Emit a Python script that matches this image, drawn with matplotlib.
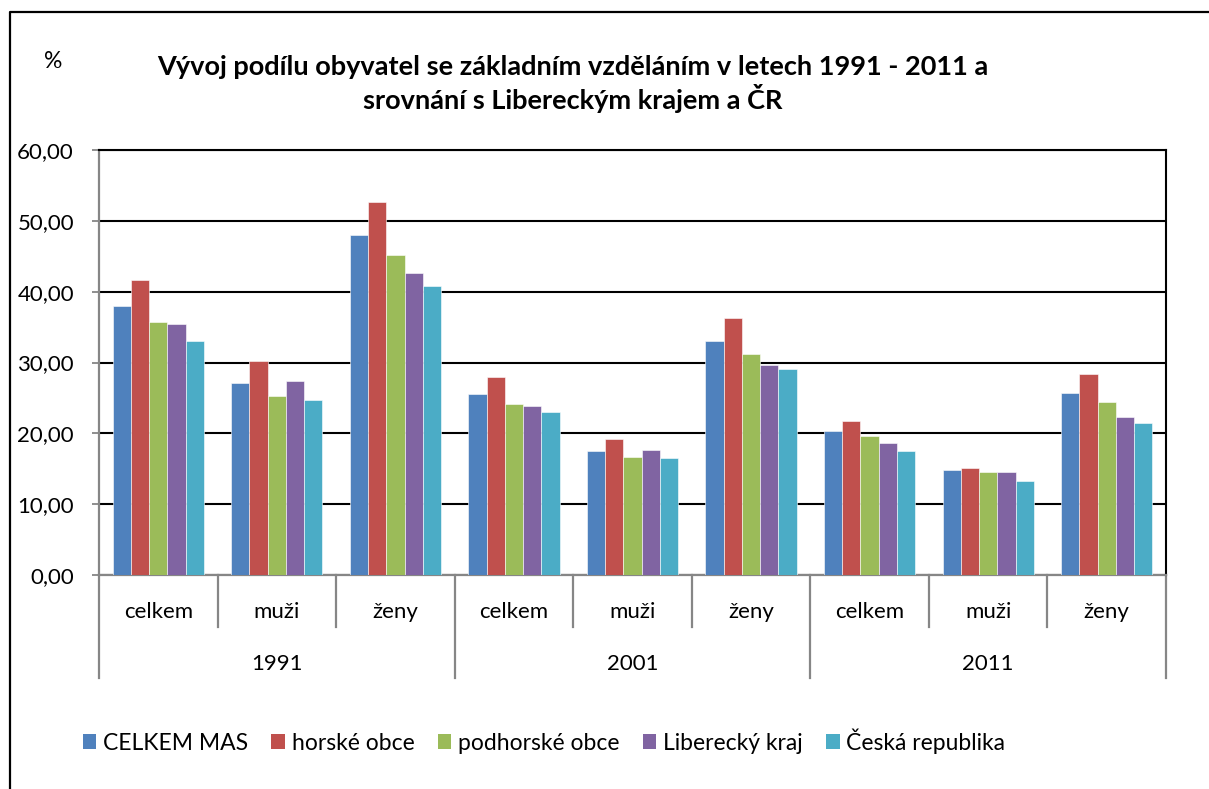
import numpy as np
import matplotlib; matplotlib.use("Agg")
import matplotlib.pyplot as plt
from matplotlib.patches import Patch
from matplotlib.lines import Line2D

plt.rcParams["font.family"] = ["Lato", "DejaVu Sans"]

W, H, DPI = 1209, 789, 100

years = ["1991", "2001", "2011"]
groups = ["celkem", "muži", "ženy"]
series = ["CELKEM MAS", "horské obce", "podhorské obce", "Liberecký kraj", "Česká republika"]
colors = ["#4F81BD", "#C0504D", "#9BBB59", "#8064A2", "#4BACC6"]

celkem_mas   = [38.0, 27.1, 48.0, 25.5, 17.5, 33.0, 20.4, 14.8, 25.7]
horske       = [41.7, 30.2, 52.7, 27.9, 19.2, 36.3, 21.7, 15.1, 28.4]
podhorske    = [35.7, 25.3, 45.2, 24.1, 16.6, 31.2, 19.6, 14.6, 24.4]
liberecky    = [35.4, 27.4, 42.7, 23.9, 17.7, 29.6, 18.6, 14.6, 22.3]
cr           = [33.1, 24.7, 40.8, 23.0, 16.5, 29.1, 17.5, 13.3, 21.5]
values = [celkem_mas, horske, podhorske, liberecky, cr]

title = "Vývoj podílu obyvatel se základním vzděláním v letech 1991 - 2011 a\nsrovnání s Libereckým krajem a ČR"

fig = plt.figure(figsize=(W / DPI, H / DPI), dpi=DPI)
ax = fig.add_axes([99 / W, 214 / H, (1166 - 99) / W, 425 / H])

n = len(series)
bw = 1 / 6.5
x = np.arange(len(years) * len(groups))
for i, (vals, c) in enumerate(zip(values, colors)):
    ax.bar(x + (i - (n - 1) / 2) * bw, vals, width=bw, color=c,
           edgecolor="white", linewidth=0.4, zorder=3, label=series[i])

ax.set_xlim(-0.5, len(x) - 0.5)
ax.set_ylim(0, 60)
ax.set_yticks(np.arange(0, 61, 10))
ax.set_yticklabels([f"{v:.2f}".replace(".", ",") for v in np.arange(0, 61, 10)])
ax.yaxis.grid(True, color="black", linewidth=1.5, zorder=1)
ax.tick_params(axis="y", length=5, width=1.3, color="#868686", labelsize=16, pad=13)
ax.set_xticks([])

for s in ("left", "bottom"):
    ax.spines[s].set_color("#868686"); ax.spines[s].set_linewidth(1.6)
for s in ("right", "top"):
    ax.spines[s].set_color("black"); ax.spines[s].set_linewidth(1.5)

# two-level category axis
tr = ax.get_xaxis_transform()
short_y, long_y = -52 / 425, -103 / 425
for k in range(len(x) + 1):
    b = k - 0.5
    y1 = long_y if k % 3 == 0 else short_y
    ax.plot([b, b], [0, y1], transform=tr, color="#868686", lw=1.6, clip_on=False)
labels = [g for _ in years for g in groups]
for xi, lab in zip(x, labels):
    ax.text(xi, -37 / 425, lab, transform=tr, ha="center", va="center", fontsize=16)
for j, yr in enumerate(years):
    ax.text(j * 3 + 1, -89 / 425, yr, transform=tr, ha="center", va="center", fontsize=16)

fig.text(573 / W, 1 - 84 / H, title, ha="center", va="center", fontsize=19.5,
         fontweight="bold", linespacing=1.2)
fig.text(53 / W, 1 - 62 / H, "%", ha="center", va="center", fontsize=16.5)

handles = [Patch(facecolor=c, edgecolor="none") for c in colors]
fig.legend(handles, series, loc="center", bbox_to_anchor=(544 / W, 1 - 741 / H),
           ncol=5, frameon=False, fontsize=16.5, handlelength=0.6, handleheight=0.6,
           handletextpad=0.3, columnspacing=1.0)

# outer chart frame
fig.add_artist(Line2D([10 / W, 10 / W, 1], [0, 1 - 12 / H, 1 - 12 / H],
                      transform=fig.transFigure, color="black", lw=1.6))

fig.savefig("out.png", dpi=DPI)
